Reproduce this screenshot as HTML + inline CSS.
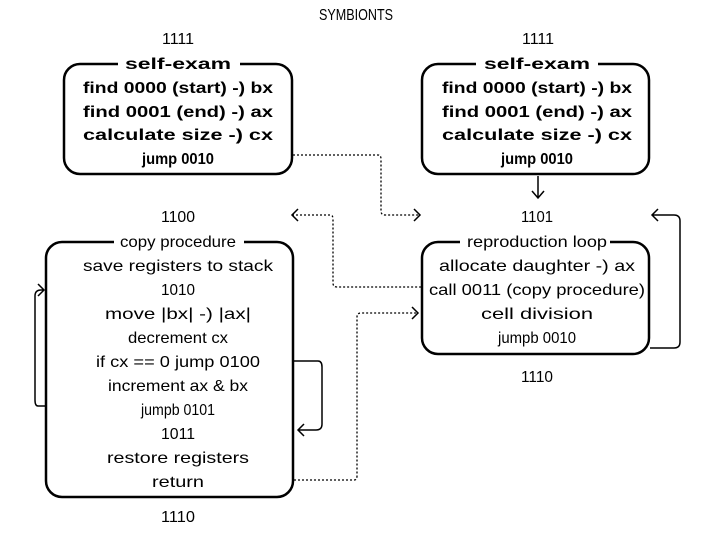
<!DOCTYPE html>
<html><head><meta charset="utf-8"><style>
html,body{margin:0;padding:0;background:#fff;}
svg{display:block;}
text{font-family:"Liberation Sans",sans-serif;font-size:16px;fill:#000;text-anchor:middle;}
.b{font-weight:bold;}
</style></head><body>
<svg width="720" height="540" viewBox="0 0 720 540" xmlns="http://www.w3.org/2000/svg">
<g fill="none" stroke="#000" stroke-width="2.5">
<rect x="64" y="64" width="228" height="110" rx="16"/>
<rect x="422" y="64" width="227" height="110" rx="16"/>
<rect x="46" y="242" width="247" height="255" rx="16"/>
<rect x="422" y="242" width="227" height="112" rx="16"/>
</g>
<rect x="118" y="56" width="122" height="14" fill="#fff"/>
<rect x="476" y="56" width="122" height="14" fill="#fff"/>
<rect x="114" y="234" width="130" height="14" fill="#fff"/>
<rect x="460" y="234" width="150" height="14" fill="#fff"/>
<g lengthAdjust="spacingAndGlyphs">
<text lengthAdjust="spacingAndGlyphs" x="356" y="20" textLength="74">SYMBIONTS</text>
<text lengthAdjust="spacingAndGlyphs" x="178" y="44" textLength="32">1111</text>
<text lengthAdjust="spacingAndGlyphs" x="538" y="44" textLength="32">1111</text>
<text lengthAdjust="spacingAndGlyphs" x="178" y="69" class="b" textLength="106">self-exam</text>
<text lengthAdjust="spacingAndGlyphs" x="537" y="69" class="b" textLength="106">self-exam</text>
<text lengthAdjust="spacingAndGlyphs" x="178" y="93" class="b" textLength="190">find 0000 (start) -) bx</text>
<text lengthAdjust="spacingAndGlyphs" x="178" y="117" class="b" textLength="190">find 0001  (end)  -) ax</text>
<text lengthAdjust="spacingAndGlyphs" x="178" y="140" class="b" textLength="190">calculate size    -) cx</text>
<text lengthAdjust="spacingAndGlyphs" x="178" y="164" class="b" textLength="72">jump 0010</text>
<text lengthAdjust="spacingAndGlyphs" x="537" y="93" class="b" textLength="190">find 0000 (start) -) bx</text>
<text lengthAdjust="spacingAndGlyphs" x="537" y="117" class="b" textLength="190">find 0001  (end)  -) ax</text>
<text lengthAdjust="spacingAndGlyphs" x="537" y="140" class="b" textLength="190">calculate size    -) cx</text>
<text lengthAdjust="spacingAndGlyphs" x="537" y="164" class="b" textLength="72">jump 0010</text>
<text lengthAdjust="spacingAndGlyphs" x="178" y="222" textLength="34">1100</text>
<text lengthAdjust="spacingAndGlyphs" x="537" y="222" textLength="32">1101</text>
<text lengthAdjust="spacingAndGlyphs" x="178" y="247" textLength="116">copy procedure</text>
<text lengthAdjust="spacingAndGlyphs" x="537" y="247" textLength="140">reproduction loop</text>
<text lengthAdjust="spacingAndGlyphs" x="178" y="271" textLength="190">save registers to stack</text>
<text lengthAdjust="spacingAndGlyphs" x="178" y="295" textLength="34">1010</text>
<text lengthAdjust="spacingAndGlyphs" x="178" y="319" textLength="146">move |bx| -) |ax|</text>
<text lengthAdjust="spacingAndGlyphs" x="178" y="343" textLength="100">decrement cx</text>
<text lengthAdjust="spacingAndGlyphs" x="178" y="367" textLength="164">if cx == 0 jump 0100</text>
<text lengthAdjust="spacingAndGlyphs" x="178" y="391" textLength="140">increment ax &amp; bx</text>
<text lengthAdjust="spacingAndGlyphs" x="178" y="415" textLength="74">jumpb 0101</text>
<text lengthAdjust="spacingAndGlyphs" x="178" y="439" textLength="34">1011</text>
<text lengthAdjust="spacingAndGlyphs" x="178" y="463" textLength="142">restore registers</text>
<text lengthAdjust="spacingAndGlyphs" x="178" y="487" textLength="52">return</text>
<text lengthAdjust="spacingAndGlyphs" x="178" y="522" textLength="34">1110</text>
<text lengthAdjust="spacingAndGlyphs" x="537" y="271" textLength="196">allocate daughter -) ax</text>
<text lengthAdjust="spacingAndGlyphs" x="537" y="295" textLength="216">call 0011 (copy procedure)</text>
<text lengthAdjust="spacingAndGlyphs" x="537" y="319" textLength="112">cell division</text>
<text lengthAdjust="spacingAndGlyphs" x="537" y="343" textLength="78">jumpb 0010</text>
<text lengthAdjust="spacingAndGlyphs" x="537" y="382" textLength="32">1110</text>
</g>
<g fill="none" stroke="#000" stroke-width="1.5">
<path d="M538 176 V197 M532 191 L538 198 L544 191"/>
<path d="M46 406 H38 Q35 406 35 400 V296 Q35 290 41 290 H44 M38 284 L44 290 L38 296"/>
<path d="M293 361 H318 Q322 361 322 367 V424 Q322 430 316 430 H298 M304 424 L298 430 L304 436"/>
<path d="M650 348 H674 Q680 348 680 342 V221 Q680 215 674 215 H652 M658 209 L652 215 L658 221"/>
</g>
<g fill="none" stroke="#000" stroke-width="1.3" stroke-dasharray="2,2">
<path d="M293 155 H378 Q381 155 381 159 V211 Q381 215 385 215 H420"/>
<path d="M292 215 H330 Q333 215 333 219 V283 Q333 287 337 287 H422"/>
<path d="M294 480 H354 Q357 480 357 476 V317 Q357 313 361 313 H418"/>
</g>
<g fill="none" stroke="#000" stroke-width="1.5">
<path d="M414 209 L420 215 L414 221"/>
<path d="M298 209 L292 215 L298 221"/>
<path d="M412 307 L418 313 L412 319"/>
</g>
</svg>
</body></html>
